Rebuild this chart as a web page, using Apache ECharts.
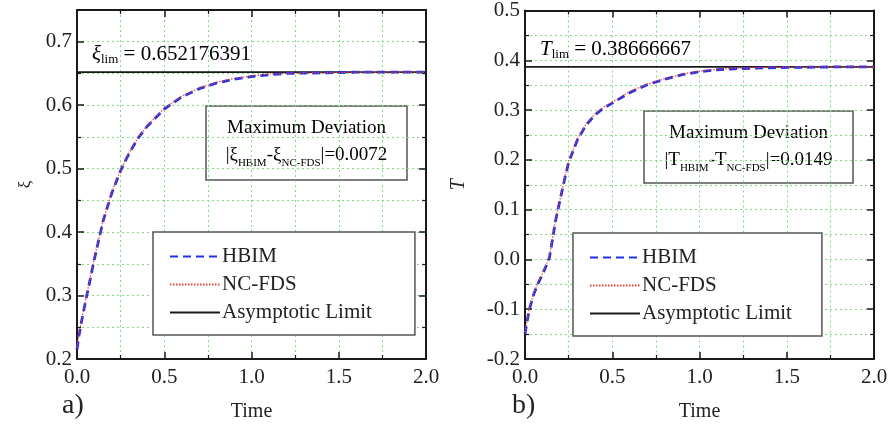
<!DOCTYPE html>
<html>
<head>
<meta charset="UTF-8">
<title>HBIM vs NC-FDS</title>
<script src="https://cdn.jsdelivr.net/npm/echarts@6/dist/echarts.min.js"></script>
<style>
  html, body { margin: 0; padding: 0; background: #fff; }
  #chart { width: 891px; height: 434px; }
</style>
</head>
<body>
<div id="chart"></div>
<script>
// panel a) - xi versus time
var timeA   = [0, 0.01, 0.025, 0.05, 0.075, 0.1, 0.15, 0.2, 0.25, 0.3, 0.35, 0.4, 0.5, 0.6, 0.7, 0.8, 0.9, 1.0, 1.1, 1.2, 1.4, 1.6, 1.8, 2.0];
var xiHBIM  = [0.215, 0.235, 0.258, 0.292, 0.325, 0.358, 0.418, 0.462, 0.497, 0.525, 0.548, 0.566, 0.594, 0.613, 0.626, 0.635, 0.641, 0.645, 0.648, 0.650, 0.651, 0.652, 0.652, 0.652];
var xiNCFDS = [0.218, 0.237, 0.260, 0.294, 0.327, 0.360, 0.419, 0.463, 0.498, 0.526, 0.549, 0.567, 0.595, 0.614, 0.627, 0.636, 0.642, 0.646, 0.649, 0.650, 0.651, 0.652, 0.652, 0.652];
var xiLim = 0.652176391;

// panel b) - T versus time
var timeB   = [0, 0.01, 0.025, 0.05, 0.075, 0.1, 0.125, 0.14, 0.16, 0.175, 0.2, 0.225, 0.25, 0.3, 0.35, 0.4, 0.45, 0.5, 0.6, 0.7, 0.8, 0.9, 1.0, 1.1, 1.2, 1.4, 1.6, 1.8, 2.0];
var tHBIM   = [-0.150, -0.128, -0.100, -0.070, -0.048, -0.030, -0.010, 0.004, 0.045, 0.078, 0.118, 0.158, 0.195, 0.240, 0.270, 0.290, 0.304, 0.314, 0.335, 0.351, 0.362, 0.371, 0.377, 0.381, 0.383, 0.385, 0.386, 0.3867, 0.3867];
var tNCFDS  = [-0.146, -0.125, -0.098, -0.068, -0.046, -0.028, -0.008, 0.006, 0.047, 0.080, 0.120, 0.160, 0.197, 0.242, 0.272, 0.292, 0.306, 0.316, 0.337, 0.352, 0.363, 0.372, 0.378, 0.382, 0.384, 0.386, 0.3867, 0.3867, 0.3867];
var tLim = 0.38666667;

var FONT = '"Liberation Serif", "Times New Roman", serif';
var INK = '#1a1a1a';
var GRIDC = '#7fdc7f';
var dotted = { color: GRIDC, type: [2, 3], width: 1 };

function pairs(xs, ys) {
    var out = [];
    for (var i = 0; i < xs.length; i++) out.push([xs[i], ys[i]]);
    return out;
}

function bottomAxis(gi) {
    return {
        gridIndex: gi, type: 'value', min: 0, max: 2, interval: 0.5,
        axisLine: { onZero: false, lineStyle: { color: INK, width: 2 } },
        axisTick: { inside: true, length: 7, lineStyle: { color: INK, width: 1.5 } },
        minorTick: { show: true, splitNumber: 2, length: 4, lineStyle: { color: INK, width: 1.2 } },
        splitLine: { show: true, lineStyle: dotted },
        minorSplitLine: { show: true, lineStyle: dotted },
        axisLabel: { fontFamily: FONT, fontSize: 21, color: '#222', margin: 8,
                     formatter: function (v) { return v.toFixed(1); } },
        name: 'Time', nameLocation: 'middle', nameGap: 43,
        nameTextStyle: { fontFamily: FONT, fontSize: 20, color: '#222' }
    };
}
function topAxis(gi) {
    return {
        gridIndex: gi, type: 'value', position: 'top', min: 0, max: 2, interval: 0.5,
        axisLine: { onZero: false, lineStyle: { color: INK, width: 2 } },
        axisTick: { inside: true, length: 7, lineStyle: { color: INK, width: 1.5 } },
        minorTick: { show: true, splitNumber: 2, length: 4, lineStyle: { color: INK, width: 1.2 } },
        splitLine: { show: false }, axisLabel: { show: false }
    };
}
function leftAxis(gi, mn, mx, name, gap, nameStyle) {
    return {
        gridIndex: gi, type: 'value', min: mn, max: mx, interval: 0.1,
        axisLine: { onZero: false, lineStyle: { color: INK, width: 2 } },
        axisTick: { inside: true, length: 7, lineStyle: { color: INK, width: 1.5 } },
        minorTick: { show: true, splitNumber: 2, length: 4, lineStyle: { color: INK, width: 1.2 } },
        splitLine: { show: true, lineStyle: dotted },
        minorSplitLine: { show: true, lineStyle: dotted },
        axisLabel: { fontFamily: FONT, fontSize: 21, color: '#222', margin: 5, showMaxLabel: mx === 0.5,
                     formatter: function (v) { return v.toFixed(1); } },
        name: name, nameLocation: 'middle', nameGap: gap,
        nameTextStyle: nameStyle
    };
}
function rightAxis(gi, mn, mx) {
    return {
        gridIndex: gi, type: 'value', position: 'right', min: mn, max: mx, interval: 0.1,
        axisLine: { onZero: false, lineStyle: { color: INK, width: 2 } },
        axisTick: { inside: true, length: 7, lineStyle: { color: INK, width: 1.5 } },
        minorTick: { show: true, splitNumber: 2, length: 4, lineStyle: { color: INK, width: 1.2 } },
        splitLine: { show: false }, axisLabel: { show: false }
    };
}

function seriesFor(gi, xs, hb, nc, lim) {
    var xi = gi * 2, yi = gi * 2;
    return [
        { name: 'HBIM', type: 'line', xAxisIndex: xi, yAxisIndex: yi, symbol: 'none', z: 3,
          lineStyle: { color: '#1f30e8', width: 2.8, type: [8, 5] }, itemStyle: { color: '#1f30e8' },
          data: pairs(xs, hb) },
        { name: 'NC-FDS', type: 'line', xAxisIndex: xi, yAxisIndex: yi, symbol: 'none', z: 4,
          lineStyle: { color: '#e8423a', width: 1.2, type: [1.5, 1.5] }, itemStyle: { color: '#e8423a' },
          data: pairs(xs, nc) },
        { name: 'Asymptotic Limit', type: 'line', xAxisIndex: xi, yAxisIndex: yi, symbol: 'none', z: 2,
          lineStyle: { color: INK, width: 1.8 }, itemStyle: { color: INK },
          data: [[0, lim], [2, lim]] }
    ];
}

function legendAt(left, top, padRight) {
    return {
        left: left, top: top, orient: 'vertical',
        data: ['HBIM', 'NC-FDS', 'Asymptotic Limit'],
        backgroundColor: '#fff', borderColor: '#555', borderWidth: 1.5,
        padding: [14, padRight, 12, 16], itemWidth: 50, itemHeight: 14, itemGap: 7,
        itemStyle: { opacity: 0 },
        textStyle: { fontFamily: FONT, fontSize: 21, color: '#222', padding: [0, 0, 0, -3] },
        selectedMode: false
    };
}

var richBase = {
    n:   { fontFamily: FONT, fontSize: 21, color: '#222', lineHeight: 24 },
    it:  { fontFamily: FONT, fontSize: 21, color: '#222', fontStyle: 'italic', lineHeight: 24 },
    sub: { fontFamily: FONT, fontSize: 13, color: '#222', verticalAlign: 'bottom', lineHeight: 24 },
    m:   { fontFamily: FONT, fontSize: 19, color: '#222', lineHeight: 27 },
    ms:  { fontFamily: FONT, fontSize: 11, color: '#222', verticalAlign: 'bottom', lineHeight: 26 }
};

function devBox(x, y, w, h, sym, val) {
    return {
        type: 'group', z: 20,
        children: [
            { type: 'rect', shape: { x: x, y: y, width: w, height: h },
              style: { fill: '#fff', stroke: '#555', lineWidth: 1.5 } },
            { type: 'text', style: {
                x: x + w / 2, y: y + 9, align: 'center',
                text: '{m|Maximum Deviation}\n{m||' + sym + '}{ms|HBIM}{m|-' + sym + '}{ms|NC-FDS}{m||=' + val + '}',
                rich: richBase } }
        ]
    };
}

var chart = echarts.init(document.getElementById('chart'));
var option = {
    backgroundColor: '#fff',
    animation: false,
    textStyle: { fontFamily: FONT },
    grid: [
        { left: 77, top: 10, width: 349, height: 349 },
        { left: 525, top: 10, width: 349, height: 349 }
    ],
    xAxis: [bottomAxis(0), topAxis(0), bottomAxis(1), topAxis(1)],
    yAxis: [
        leftAxis(0, 0.2, 0.75, 'ξ', 43, { fontFamily: FONT, fontSize: 17, color: '#222' }),
        rightAxis(0, 0.2, 0.75),
        leftAxis(1, -0.2, 0.5, 'T', 56, { fontFamily: FONT, fontSize: 20, fontStyle: 'italic', color: '#222' }),
        rightAxis(1, -0.2, 0.5)
    ],
    legend: [legendAt(153, 232, 43), legendAt(573, 233, 30)],
    series: seriesFor(0, timeA, xiHBIM, xiNCFDS, xiLim).concat(seriesFor(1, timeB, tHBIM, tNCFDS, tLim)),
    graphic: [
        { type: 'text', left: 92, top: 44, z: 20,
          style: { text: '{it|ξ}{sub|lim}{n| = 0.652176391}', rich: richBase } },
        { type: 'text', left: 540, top: 39, z: 20,
          style: { text: '{it|T}{sub|lim}{n| = 0.38666667}', rich: richBase } },
        devBox(206, 106, 201, 74, 'ξ', '0.0072'),
        devBox(644, 111, 209, 72, 'T', '0.0149'),
        { type: 'text', left: 62, top: 392, z: 20,
          style: { text: 'a)', font: '28px ' + FONT, fill: '#222' } },
        { type: 'text', left: 512, top: 392, z: 20,
          style: { text: 'b)', font: '28px ' + FONT, fill: '#222' } }
    ]
};
chart.setOption(option);
</script>
</body>
</html>
